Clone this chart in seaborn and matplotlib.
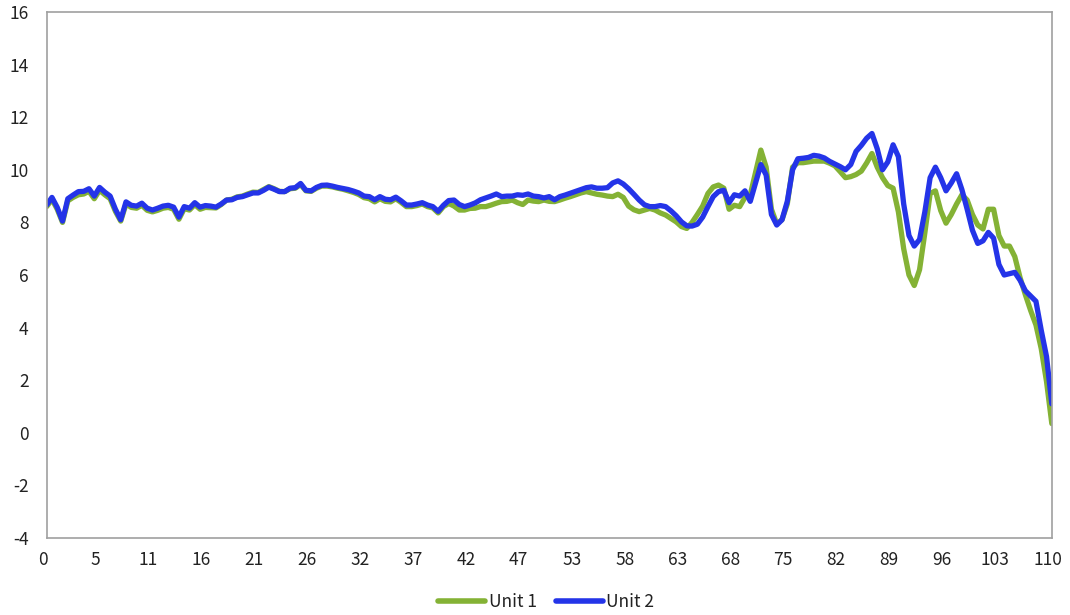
import numpy as np
import pandas as pd
import matplotlib
matplotlib.use("Agg")
import matplotlib.pyplot as plt
import matplotlib.transforms as mtransforms
import seaborn as sns

# Category labels shown on the x axis (one every 10 samples)
tick_labels = ["0", "5", "11", "16", "21", "26", "32", "37", "42", "47",
               "53", "58", "63", "68", "75", "82", "89", "96", "103", "110"]

unit1 = [
    8.60, 8.88, 8.50, 8.00, 8.82, 8.95, 9.05, 9.08, 9.18, 8.90,
    9.22, 9.05, 8.90, 8.42, 8.05, 8.70, 8.57, 8.54, 8.65, 8.46,
    8.40, 8.46, 8.54, 8.57, 8.50, 8.12, 8.52, 8.47, 8.68, 8.50,
    8.57, 8.56, 8.55, 8.68, 8.85, 8.88, 8.97, 9.00, 9.08, 9.15,
    9.14, 9.25, 9.36, 9.28, 9.18, 9.17, 9.28, 9.30, 9.44, 9.20,
    9.18, 9.30, 9.38, 9.38, 9.35, 9.30, 9.26, 9.20, 9.14, 9.06,
    8.94, 8.90, 8.78, 8.90, 8.80, 8.78, 8.90, 8.76, 8.60, 8.60,
    8.64, 8.70, 8.60, 8.55, 8.36, 8.60, 8.72, 8.62, 8.47, 8.47,
    8.53, 8.54, 8.60, 8.60, 8.66, 8.73, 8.79, 8.80, 8.85, 8.75,
    8.68, 8.85, 8.81, 8.79, 8.85, 8.80, 8.79, 8.85, 8.92, 8.98,
    9.05, 9.12, 9.17, 9.12, 9.07, 9.04, 9.00, 8.98, 9.07, 8.95,
    8.62, 8.48, 8.41, 8.47, 8.53, 8.47, 8.36, 8.28, 8.15, 8.02,
    7.84, 7.77, 8.00, 8.30, 8.62, 9.10, 9.35, 9.42, 9.30, 8.50,
    8.65, 8.60, 8.95, 9.05, 9.90, 10.75, 10.10, 8.50, 7.95, 8.10,
    8.70, 10.10, 10.27, 10.27, 10.30, 10.33, 10.33, 10.33, 10.25, 10.15,
    9.93, 9.70, 9.74, 9.82, 9.95, 10.26, 10.62, 10.10, 9.70, 9.40,
    9.30, 8.40, 7.00, 6.00, 5.60, 6.20, 7.60, 9.10, 9.20, 8.45,
    7.97, 8.30, 8.70, 9.05, 8.85, 8.30, 7.90, 7.75, 8.50, 8.50,
    7.50, 7.10, 7.10, 6.70, 5.90, 5.25, 4.65, 4.10, 3.20, 1.95,
    0.35,
]

unit2 = [
    8.66, 8.95, 8.57, 8.05, 8.90, 9.04, 9.17, 9.18, 9.28, 9.00,
    9.33, 9.15, 9.00, 8.50, 8.10, 8.78, 8.65, 8.62, 8.73, 8.54,
    8.47, 8.54, 8.62, 8.65, 8.58, 8.20, 8.60, 8.54, 8.75, 8.58,
    8.64, 8.62, 8.58, 8.70, 8.85, 8.86, 8.95, 8.98, 9.05, 9.12,
    9.12, 9.22, 9.34, 9.26, 9.17, 9.17, 9.30, 9.32, 9.48, 9.22,
    9.20, 9.33, 9.41, 9.42, 9.38, 9.33, 9.29, 9.25, 9.19, 9.12,
    9.00, 8.98, 8.86, 8.98, 8.88, 8.86, 8.96, 8.82, 8.66, 8.66,
    8.70, 8.75, 8.66, 8.60, 8.42, 8.65, 8.83, 8.85, 8.68, 8.60,
    8.66, 8.74, 8.86, 8.93, 9.00, 9.08, 8.98, 9.00, 9.00, 9.05,
    9.03, 9.08, 9.00, 8.98, 8.93, 8.98, 8.86, 8.98, 9.04, 9.11,
    9.18, 9.25, 9.32, 9.35, 9.30, 9.30, 9.32, 9.50, 9.58, 9.46,
    9.28, 9.07, 8.85, 8.67, 8.60, 8.60, 8.64, 8.60, 8.44, 8.25,
    8.02, 7.87, 7.86, 7.93, 8.20, 8.60, 8.98, 9.17, 9.22, 8.75,
    9.05, 9.00, 9.20, 8.80, 9.50, 10.20, 9.80, 8.30, 7.90, 8.10,
    8.80, 10.00, 10.42, 10.44, 10.47, 10.55, 10.52, 10.45, 10.32, 10.22,
    10.12, 10.00, 10.20, 10.70, 10.93, 11.20, 11.38, 10.80, 10.00, 10.30,
    10.95, 10.50, 8.70, 7.50, 7.10, 7.35, 8.40, 9.70, 10.10, 9.70,
    9.20, 9.50, 9.85, 9.25, 8.50, 7.70, 7.20, 7.30, 7.62, 7.40,
    6.40, 6.00, 6.05, 6.10, 5.80, 5.40, 5.20, 5.00, 3.90, 2.90,
    1.10,
]

series_names = ["Unit 1", "Unit 2"]
series_colors = {"Unit 1": "#84B235", "Unit 2": "#2434E8"}

sns.set_style("white")
plt.rcParams["font.family"] = ["Noto Sans CJK SC", "DejaVu Sans"]
plt.rcParams["axes.unicode_minus"] = False

n = len(unit1)
df = pd.DataFrame({
    "step": np.tile(np.arange(n), 2),
    "value": unit1 + unit2,
    "series": [series_names[0]] * n + [series_names[1]] * n,
})

fig = plt.figure(figsize=(10.7, 6.15), dpi=100)
ax = fig.add_axes([0.0436, 0.1252, 0.9394, 0.8553])

sns.lineplot(data=df, x="step", y="value", hue="series",
             hue_order=series_names, palette=series_colors,
             linewidth=3.8, ax=ax)

ax.set_xlim(0, n - 1)
ax.set_ylim(-4, 16)
ax.set_yticks(np.arange(-4, 17, 2))
ax.set_xticks(np.arange(0, n, 10))
ax.set_xticklabels(tick_labels)
ax.set_xlabel("")
ax.set_ylabel("")

text_color = "#222222"
spine_color = "#A0A0A0"
ax.tick_params(axis="x", direction="in", length=3, width=1, color=spine_color,
               pad=9, labelsize=12.5, labelcolor=text_color)
ax.tick_params(axis="y", direction="out", length=3, width=1, color=spine_color,
               pad=10, labelsize=12.5, labelcolor=text_color)
for side in ["left", "right", "top", "bottom"]:
    ax.spines[side].set_visible(True)
    ax.spines[side].set_color(spine_color)
    ax.spines[side].set_linewidth(1.2)

shift = mtransforms.ScaledTranslation(-4 / 100, 0, fig.dpi_scale_trans)
for lbl in ax.get_xticklabels():
    lbl.set_transform(lbl.get_transform() + shift)

sns.move_legend(ax, "center", bbox_to_anchor=(0.497, -0.122), ncol=2,
                title=None, frameon=False, fontsize=12.5,
                handlelength=2.7, handletextpad=0.2, columnspacing=1.1,
                labelcolor=text_color)
for line in ax.get_legend().get_lines():
    line.set_linewidth(4)

fig.savefig("out.png", dpi=100, facecolor="white")
